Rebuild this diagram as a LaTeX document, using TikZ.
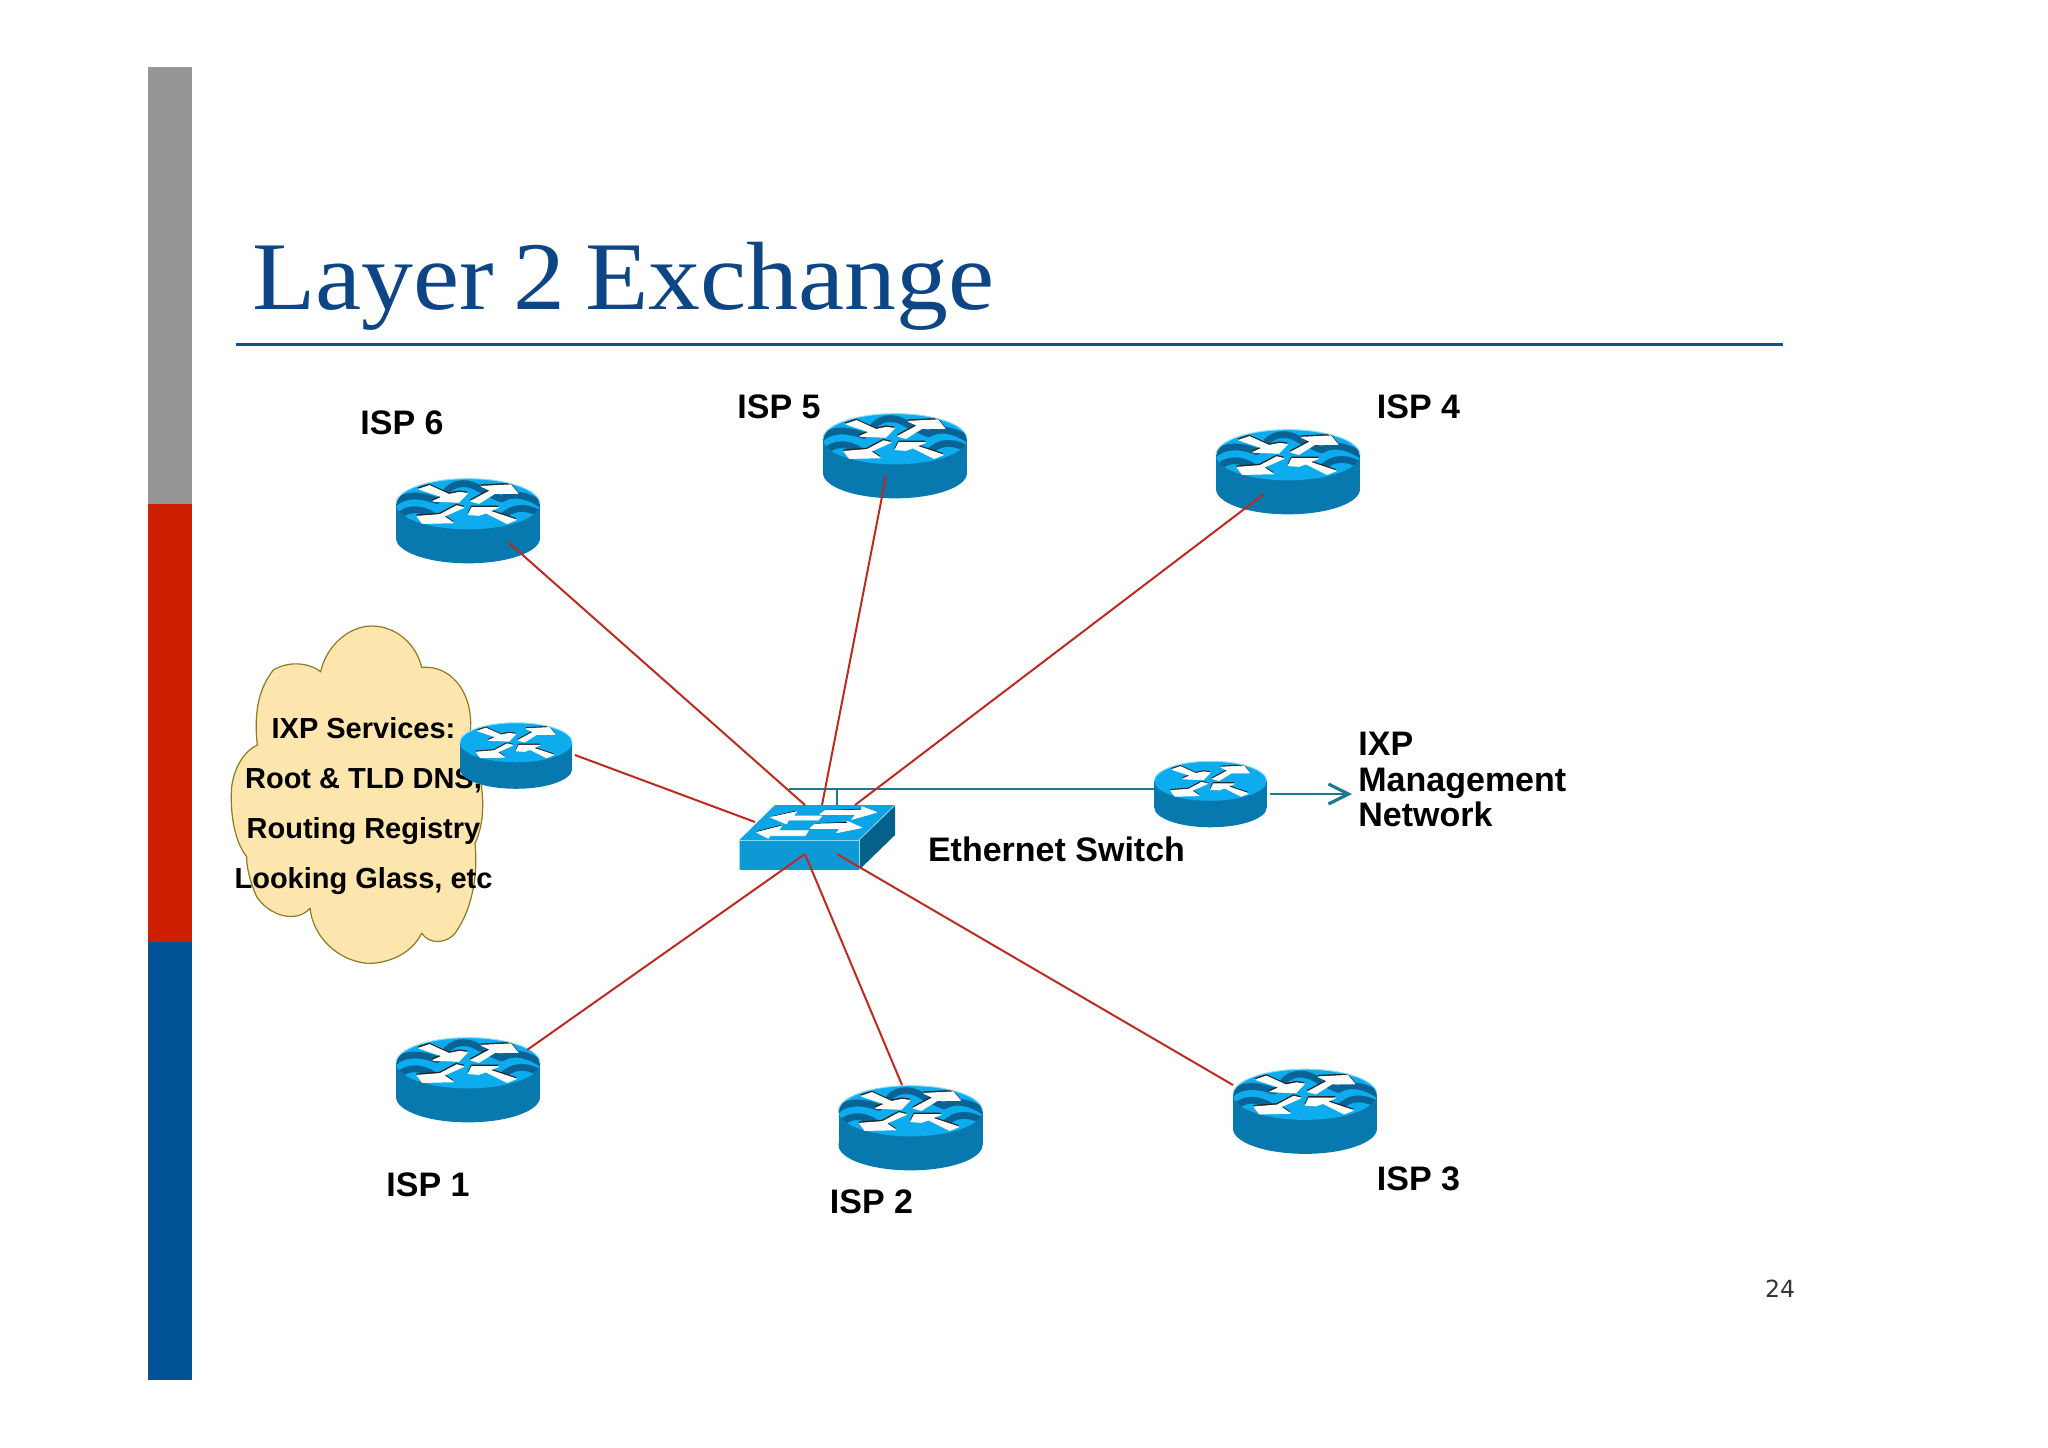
\documentclass[tikz,border=0pt]{standalone}
\usepackage{fontspec}
\setmainfont{Liberation Sans}
\newfontfamily\titlefont[FakeStretch=1.07,WordSpace=0.75]{Liberation Serif}
\newfontfamily\numfont{DejaVu Sans}
\usetikzlibrary{arrows.meta}
\definecolor{rtrtop}{HTML}{0DACEE}
\definecolor{rtrside}{HTML}{0879AF}
\definecolor{rtrwave}{HTML}{0A6395}
\definecolor{rtrrim}{HTML}{8ADDF7}
\definecolor{swtop}{HTML}{0BA4E6}
\definecolor{swfront}{HTML}{0D99D6}
\definecolor{swside}{HTML}{05608C}
\definecolor{linkred}{HTML}{BE2A20}
\definecolor{mgmt}{HTML}{1B7A8C}
\definecolor{cloudfill}{HTML}{FDE6AD}
\definecolor{cloudline}{HTML}{8C7A24}
\definecolor{titleblue}{HTML}{0E4585}
\definecolor{rulecol}{HTML}{0B5394}
\newcommand{\RtrBody}{
  \fill[rtrside] (264,232) ellipse [x radius=216, y radius=76];
  \fill[rtrside] (48,130) rectangle (480,232);
  \fill[rtrtop] (264,130) ellipse [x radius=216, y radius=76];
}
\newcommand{\RtrArrowPaths}[1]{
  \filldraw[#1, line width=.5pt, line join=round] (125,88) -- (155,78) -- (210,103) -- (240,97) -- (262,100) -- (238,125) -- (165,122) -- (192,110) -- cycle;
  \filldraw[#1, line width=.5pt, line join=round] (272,122) -- (328,92) -- (302,80) -- (385,76) -- (405,100) -- (340,100) -- (295,128) -- cycle;
  \filldraw[#1, line width=.5pt, line join=round] (252,140) -- (195,165) -- (222,183) -- (135,185) -- (120,165) -- (185,160) -- (232,135) -- cycle;
  \filldraw[#1, line width=.5pt, line join=round] (400,175) -- (375,185) -- (315,155) -- (295,162) -- (265,160) -- (275,140) -- (350,140) -- (325,150) -- cycle;
}
\newcommand{\RtrFinish}{
  \begin{scope}[shift={(264,130)}, scale=1.06, shift={(-264,-130)}]
    \begin{scope}[shift={(-1,-4)}]\RtrArrowPaths{black!85}\end{scope}
    \RtrArrowPaths{white}
  \end{scope}
  \draw[rtrrim, line width=.5pt] (48,130) arc[start angle=180, end angle=360, x radius=216, y radius=76];
}
\tikzset{
  x=0.5pt, y=-0.5pt,
  link/.style={linkred, line width=1pt},
  mgmtline/.style={mgmt, line width=1pt},
  label/.style={font=\bfseries\fontsize{17}{20}\selectfont, text=black, inner sep=0pt},
  router/.pic={
    \begin{scope}[scale=1/3, shift={(-264,-130)}]
      \RtrBody
      \begin{scope}
        \clip (264,130) ellipse [x radius=216, y radius=76];
        \draw[rtrwave, line width=3.4pt, line cap=round]
          (40,130) .. controls (70,100) and (120,100) .. (170,120)
          (200,90) .. controls (230,60) and (270,65) .. (300,85) .. controls (320,95) and (340,105) .. (365,115)
          (365,115) .. controls (395,95) and (440,100) .. (490,135)
          (50,172) .. controls (80,140) and (120,140) .. (160,165)
          (365,170) .. controls (400,135) and (440,135) .. (490,165);
      \end{scope}
      \RtrFinish
    \end{scope}
    \coordinate (-c) at (0,0);
  },
  smallrouter/.pic={
    \begin{scope}[scale=.26, shift={(-264,-130)}]
      \RtrBody
      \RtrFinish
    \end{scope}
    \coordinate (-c) at (0,0);
  }
}
\begin{document}
\begin{tikzpicture}
\useasboundingbox (0,0) rectangle (2048,1447);
% sidebar
\fill[fill={rgb,255:red,150;green,150;blue,150}] (148,67) rectangle (192,504);
\fill[fill={rgb,255:red,204;green,32;blue,0}] (148,504) rectangle (192,942);
\fill[fill={rgb,255:red,0;green,83;blue,150}] (148,942) rectangle (192,1380);
% title
\node[anchor=base west, inner sep=0pt, text=titleblue, font=\titlefont\fontsize{48.5}{60}\selectfont] (title) at (252,309.5) {Layer 2 Exchange};
\coordinate (ruleL) at (236,344);
\coordinate (ruleR) at (1783,344);
\draw[rulecol, line width=1.5pt] (ruleL) -- (ruleR);
% cloud
\begin{scope}[shift={(220,610)}, scale=1/3]
\draw[fill=cloudfill, draw=cloudline, line width=.6pt]
  (302,185) .. controls (318,110) and (385,48) .. (455,48)
  .. controls (530,48) and (590,105) .. (605,172)
  .. controls (690,165) and (750,240) .. (752,335)
  .. controls (752,370) and (750,385) .. (750,400)
  .. controls (775,460) and (790,540) .. (788,590)
  .. controls (788,640) and (775,680) .. (765,700)
  .. controls (775,800) and (755,900) .. (705,970)
  .. controls (680,1000) and (630,1005) .. (605,970)
  .. controls (570,1040) and (490,1062) .. (440,1060)
  .. controls (350,1050) and (280,980) .. (270,895)
  .. controls (230,940) and (150,920) .. (110,860)
  .. controls (88,810) and (80,770) .. (80,740)
  .. controls (40,690) and (30,600) .. (35,530)
  .. controls (45,460) and (80,420) .. (112,405)
  .. controls (100,300) and (120,230) .. (160,180)
  .. controls (210,150) and (270,160) .. (302,185) -- cycle;
\end{scope}
\node[font=\bfseries\fontsize{14.5}{25.1}\selectfont, align=center, inner sep=0pt, text=black] (services) at (363.5,806)
  {IXP Services:\\Root \& TLD DNS,\\Routing Registry\\Looking Glass, etc};
% management links under the switch
\coordinate (mgmtL) at (789,789);
\coordinate (mgmtStub) at (837,789);
\coordinate (swStub) at (837,806);
\coordinate (mgmtR) at (1160,789);
\draw[mgmtline] (mgmtL) -- (mgmtR);
\draw[mgmtline] (mgmtStub) -- (swStub);
% switch
\begin{scope}[shift={(720,760)}, scale=1/3]
\fill[swfront] (58,240) rectangle (417,330);
\fill[swside] (417,240) -- (525,135) -- (525,225) -- (417,330) -- cycle;
\fill[swtop] (58,240) -- (165,135) -- (525,135) -- (417,240) -- cycle;
\draw[rtrrim, line width=.4pt] (58,330) -- (58,240) -- (417,240) -- (417,330);
\draw[rtrrim, line width=.4pt] (417,240) -- (525,135);
\draw[black, line width=.6pt] (155,171) -- (228,154) (318,152) -- (425,148) (112,215) -- (183,197) (285,191) -- (383,188);
\filldraw[white, line width=.4pt, line join=round] (315,152) -- (425,150) -- (425,140) -- (470,157) -- (395,178) -- (408,163) -- (300,163) -- cycle;
\filldraw[white, line width=.4pt, line join=round] (152,172) -- (230,155) -- (220,168) -- (305,168) -- (295,180) -- (205,180) -- (200,192) -- cycle;
\filldraw[white, line width=.4pt, line join=round] (110,217) -- (185,198) -- (175,212) -- (265,212) -- (255,227) -- (150,227) -- (145,235) -- cycle;
\filldraw[white, line width=.4pt, line join=round] (285,192) -- (385,190) -- (380,183) -- (425,203) -- (350,218) -- (360,205) -- (270,205) -- cycle;
\end{scope}
\node[label, anchor=center] (ethlabel) at (1056.5,849.5) {Ethernet Switch};
% routers
\pic (isp6) at (468,504) {router};
\pic (isp5) at (895,439) {router};
\pic (isp4) at (1288,455) {router};
\pic (isp1) at (468,1063) {router};
\pic (isp2) at (910.5,1111) {router};
\pic (isp3) at (1305,1094.5) {router};
\pic (svc) at (516,742.5) {smallrouter};
\pic (mgr) at (1210.5,781) {smallrouter};
% link ends
\coordinate (p6) at (508,542);
\coordinate (p5) at (886,476);
\coordinate (p4) at (1264,494);
\coordinate (ps) at (575,755);
\coordinate (p1) at (527,1050);
\coordinate (p2) at (902,1085);
\coordinate (p3) at (1233,1085);
\coordinate (s6) at (805,805);
\coordinate (s5) at (822,805);
\coordinate (s4) at (855,805);
\coordinate (ss) at (755,822);
\coordinate (s1) at (805,854);
\coordinate (s3) at (837,854);
\draw[link] (p6) -- (s6);
\draw[link] (p5) -- (s5);
\draw[link] (p4) -- (s4);
\draw[link] (ps) -- (ss);
\draw[link] (p1) -- (s1);
\draw[link] (p2) -- (s1);
\draw[link] (p3) -- (s3);
% management arrow
\coordinate (arrowA) at (1270,794);
\coordinate (arrowB) at (1352,794);
\draw[mgmtline, -{Straight Barb[length=10pt,width=10pt,line width=1.6pt]}] (arrowA) -- (arrowB);
% labels
\node[label] (l6) at (402,423) {ISP 6};
\node[label] (l5) at (779,406.5) {ISP 5};
\node[label] (l4) at (1418.5,407) {ISP 4};
\node[label] (l1) at (428,1184.5) {ISP 1};
\node[label] (l2) at (871.5,1201.5) {ISP 2};
\node[label] (l3) at (1418.5,1178.5) {ISP 3};
\node[font=\bfseries\fontsize{17}{17.6}\selectfont, align=left, inner sep=0pt, anchor=west, text=black] (mgmtlabel) at (1358,779.5) {IXP\\Management\\Network};
\node[font=\numfont\fontsize{11.8}{14}\selectfont, inner sep=0pt, text=black!80] (pagenum) at (1780,1289) {24};
\end{tikzpicture}
\end{document}
